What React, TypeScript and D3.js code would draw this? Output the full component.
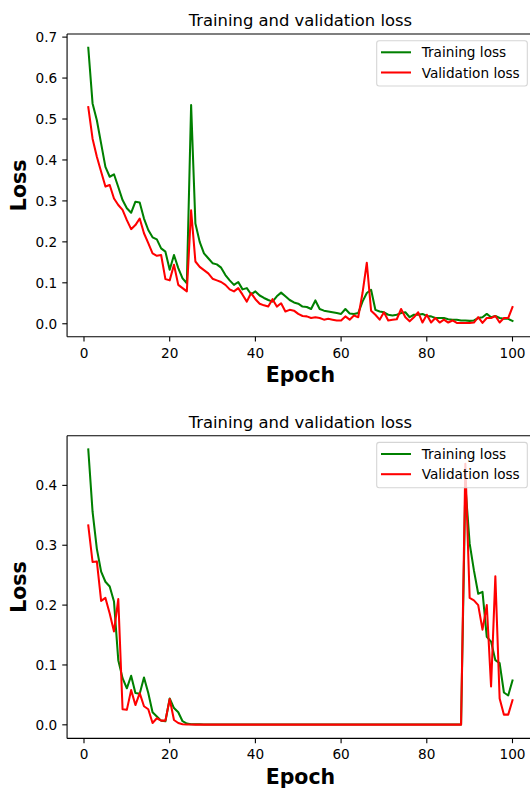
import React from "react";
import * as d3 from "d3";

const epochs: number[] = d3.range(1, 101);
const xTicks = [0, 20, 40, 60, 80, 100];
const yTicksTop = [0, 0.1, 0.2, 0.3, 0.4, 0.5, 0.6, 0.7];
const yTicksBottom = [0, 0.1, 0.2, 0.3, 0.4];
const titleText = "Training and validation loss";
const legendLabels = ["Training loss", "Validation loss"];

const trainTop = [
  0.674, 0.538, 0.497, 0.44, 0.383, 0.359, 0.365, 0.334, 0.302, 0.282,
  0.271, 0.298, 0.296, 0.257, 0.229, 0.211, 0.206, 0.184, 0.176, 0.132,
  0.168, 0.136, 0.111, 0.099, 0.534, 0.245, 0.2, 0.172, 0.16, 0.148,
  0.145, 0.137, 0.119, 0.106, 0.095, 0.102, 0.084, 0.087, 0.072, 0.079,
  0.069, 0.063, 0.058, 0.054, 0.067, 0.076, 0.067, 0.058, 0.052, 0.049,
  0.042, 0.041, 0.036, 0.057, 0.036, 0.032, 0.03, 0.028, 0.026, 0.024,
  0.036, 0.025, 0.024, 0.026, 0.054, 0.075, 0.083, 0.034, 0.03, 0.028,
  0.022, 0.02, 0.022, 0.026, 0.028, 0.016, 0.022, 0.022, 0.024, 0.019,
  0.018, 0.014, 0.014, 0.014, 0.011, 0.01, 0.01, 0.008, 0.008, 0.007,
  0.008, 0.014, 0.016, 0.024, 0.016, 0.019, 0.014, 0.012, 0.012, 0.007,
];
const valTop = [
  0.529, 0.452, 0.408, 0.371, 0.335, 0.339, 0.306, 0.29, 0.278, 0.253,
  0.231, 0.241, 0.257, 0.221, 0.197, 0.172, 0.166, 0.168, 0.109, 0.106,
  0.144, 0.095, 0.087, 0.079, 0.277, 0.152, 0.139, 0.131, 0.123, 0.11,
  0.106, 0.102, 0.095, 0.084, 0.079, 0.087, 0.071, 0.054, 0.075, 0.06,
  0.049, 0.045, 0.042, 0.06, 0.042, 0.05, 0.03, 0.034, 0.032, 0.024,
  0.019, 0.018, 0.014, 0.016, 0.014, 0.01, 0.012, 0.01, 0.008, 0.008,
  0.018, 0.01, 0.02, 0.016, 0.075, 0.149, 0.032, 0.022, 0.01, 0.028,
  0.008, 0.01, 0.011, 0.036, 0.016, 0.006, 0.016, 0.028, 0.003, 0.022,
  0.003, 0.014, 0.003, 0.01, 0.003, 0.008, 0.002, 0.002, 0.002, 0.002,
  0.003, 0.016, 0.002, 0.014, 0.014, 0.019, 0.003, 0.014, 0.014, 0.041,
];
const trainBottom = [
  0.46, 0.356, 0.294, 0.256, 0.239, 0.231, 0.206, 0.108, 0.078, 0.061,
  0.082, 0.053, 0.052, 0.079, 0.053, 0.021, 0.014, 0.007, 0.006, 0.044,
  0.028, 0.021, 0.006, 0.002, 0.001, 0.001, 0.0008, 0.0007, 0.0006, 0.0006,
  0.0005, 0.0005, 0.0005, 0.0005, 0.0005, 0.0005, 0.0005, 0.0005, 0.0005, 0.0005,
  0.0005, 0.0005, 0.0005, 0.0005, 0.0005, 0.0005, 0.0005, 0.0005, 0.0005, 0.0005,
  0.0005, 0.0005, 0.0005, 0.0005, 0.0005, 0.0005, 0.0005, 0.0005, 0.0005, 0.0005,
  0.0005, 0.0005, 0.0005, 0.0005, 0.0005, 0.0005, 0.0005, 0.0005, 0.0005, 0.0005,
  0.0005, 0.0005, 0.0005, 0.0005, 0.0005, 0.0005, 0.0005, 0.0005, 0.0005, 0.0005,
  0.0005, 0.0005, 0.0005, 0.0005, 0.0005, 0.0005, 0.0005, 0.0005, 0.4, 0.303,
  0.258, 0.219, 0.222, 0.147, 0.139, 0.108, 0.103, 0.054, 0.049, 0.074,
];
const valBottom = [
  0.333, 0.272, 0.273, 0.207, 0.212, 0.186, 0.156, 0.21, 0.026, 0.025,
  0.058, 0.033, 0.053, 0.031, 0.026, 0.003, 0.011, 0.007, 0.007, 0.043,
  0.008, 0.003, 0.001, 0.0005, 0.0004, 0.0003, 0.0003, 0.0003, 0.0003, 0.0003,
  0.0003, 0.0003, 0.0003, 0.0003, 0.0003, 0.0003, 0.0003, 0.0003, 0.0003, 0.0003,
  0.0003, 0.0003, 0.0003, 0.0003, 0.0003, 0.0003, 0.0003, 0.0003, 0.0003, 0.0003,
  0.0003, 0.0003, 0.0003, 0.0003, 0.0003, 0.0003, 0.0003, 0.0003, 0.0003, 0.0003,
  0.0003, 0.0003, 0.0003, 0.0003, 0.0003, 0.0003, 0.0003, 0.0003, 0.0003, 0.0003,
  0.0003, 0.0003, 0.0003, 0.0003, 0.0003, 0.0003, 0.0003, 0.0003, 0.0003, 0.0003,
  0.0003, 0.0003, 0.0003, 0.0003, 0.0003, 0.0003, 0.0003, 0.0003, 0.436, 0.212,
  0.208, 0.2, 0.159, 0.2, 0.064, 0.248, 0.044, 0.017, 0.017, 0.041,
];

const FONT = "'DejaVu Sans', sans-serif";
const AX_LEFT = 67.07;
const AX_RIGHT = 533.7;
const AX_H = 302.7;
const LW = 2.05;
const SPINE = 1.1;

type PanelProps = {
  top: number;
  train: number[];
  val: number[];
  yTicks: number[];
  id: string;
};

function Panel({ top, train, val, yTicks, id }: PanelProps) {
  const bottom = top + AX_H;
  const x = d3
    .scaleLinear()
    .domain([1 - 0.05 * 99, 100 + 0.05 * 99])
    .range([AX_LEFT, AX_RIGHT]);
  const all = train.concat(val);
  const mn = d3.min(all) as number;
  const mx = d3.max(all) as number;
  const pad = (mx - mn) * 0.05;
  const y = d3.scaleLinear().domain([mn - pad, mx + pad]).range([bottom, top]);
  const line = d3
    .line<number>()
    .x((_, i) => x(epochs[i]))
    .y((d) => y(d));
  const cx = (AX_LEFT + AX_RIGHT) / 2;
  const cy = (top + bottom) / 2;
  return (
    <g>
      <defs>
        <clipPath id={id}>
          <rect x={AX_LEFT} y={top} width={AX_RIGHT - AX_LEFT} height={AX_H} />
        </clipPath>
      </defs>
      <g clipPath={`url(#${id})`}>
        <path d={line(train) || ""} fill="none" stroke="#008000" strokeWidth={LW} strokeLinejoin="round" strokeLinecap="square" />
        <path d={line(val) || ""} fill="none" stroke="#ff0000" strokeWidth={LW} strokeLinejoin="round" strokeLinecap="square" />
      </g>
      {/* spines */}
      <line x1={AX_LEFT} x2={AX_LEFT} y1={top} y2={bottom} stroke="#000" strokeWidth={SPINE} />
      <line x1={AX_LEFT} x2={AX_RIGHT} y1={bottom} y2={bottom} stroke="#000" strokeWidth={SPINE} />
      <line x1={AX_LEFT} x2={AX_RIGHT} y1={top} y2={top} stroke="#000" strokeWidth={SPINE} />
      <line x1={AX_RIGHT} x2={AX_RIGHT} y1={top} y2={bottom} stroke="#000" strokeWidth={SPINE} />
      {/* x ticks */}
      {xTicks.map((t) => (
        <g key={"x" + t}>
          <line x1={x(t)} x2={x(t)} y1={bottom} y2={bottom + 4.8} stroke="#000" strokeWidth={SPINE} />
          <text x={x(t)} y={bottom + 20.8} textAnchor="middle" fontFamily={FONT} fontSize={13.65} fill="#000">
            {String(t)}
          </text>
        </g>
      ))}
      {/* y ticks */}
      {yTicks.map((t) => (
        <g key={"y" + t}>
          <line x1={AX_LEFT - 4.8} x2={AX_LEFT} y1={y(t)} y2={y(t)} stroke="#000" strokeWidth={SPINE} />
          <text x={AX_LEFT - 9.9} y={y(t) + 5} textAnchor="end" fontFamily={FONT} fontSize={13.65} fill="#000">
            {t.toFixed(1)}
          </text>
        </g>
      ))}
      {/* title */}
      <text x={cx} y={top - 8} textAnchor="middle" fontFamily={FONT} fontSize={16.4} fill="#000">
        {titleText}
      </text>
      {/* axis labels */}
      <text x={cx} y={bottom + 45.5} textAnchor="middle" fontFamily={FONT} fontSize={20.5} fontWeight="bold" fill="#000">
        Epoch
      </text>
      <text
        transform={`translate(26,${cy}) rotate(-90)`}
        textAnchor="middle"
        fontFamily={FONT}
        fontSize={20.5}
        fontWeight="bold"
        fill="#000"
      >
        Loss
      </text>
      {/* legend */}
      <g>
        <rect x={376.7} y={top + 6.7} width={150.6} height={45.3} rx={2.5} fill="#fff" fillOpacity={0.8} stroke="#d5d5d5" strokeWidth={1.1} />
        {legendLabels.map((lab, i) => {
          const ry = top + 18.3 + i * 20.2;
          return (
            <g key={lab}>
              <line x1={381} x2={411} y1={ry} y2={ry} stroke={i === 0 ? "#008000" : "#ff0000"} strokeWidth={LW} />
              <text x={421.7} y={ry + 5} fontFamily={FONT} fontSize={13.65} fill="#000">
                {lab}
              </text>
            </g>
          );
        })}
      </g>
    </g>
  );
}

export default function App() {
  return (
    <svg
      width={530}
      height={788}
      viewBox="0 0 530 788"
      style={{ position: "absolute", left: 0, top: 0, background: "#fff" }}
    >
      <rect x={0} y={0} width={530} height={788} fill="#fff" />
      <Panel top={34} train={trainTop} val={valTop} yTicks={yTicksTop} id="clipTop" />
      <Panel top={435.7} train={trainBottom} val={valBottom} yTicks={yTicksBottom} id="clipBottom" />
    </svg>
  );
}
